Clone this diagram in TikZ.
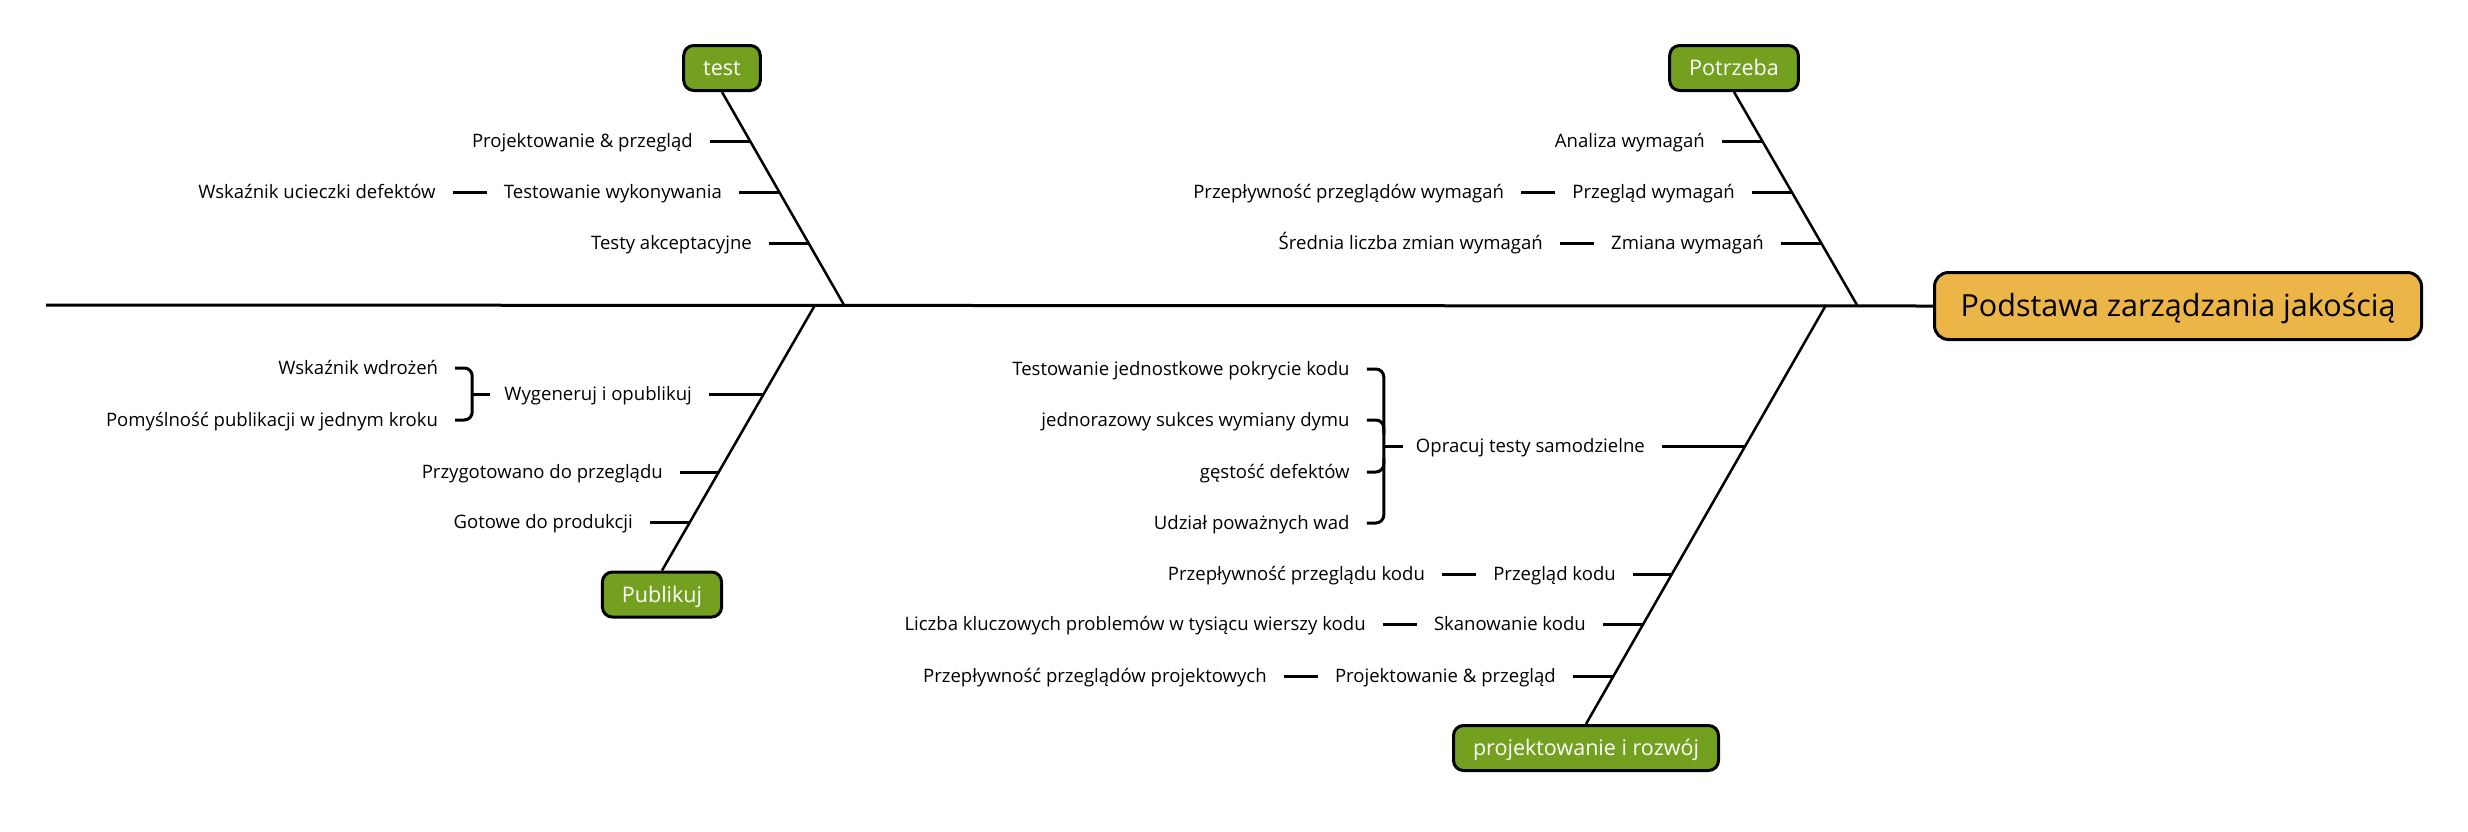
\documentclass[tikz,border=0pt]{standalone}
\usepackage{fontspec}
\setmainfont{Open Sans}
\usetikzlibrary{calc}
\definecolor{catgreen}{HTML}{73A11F}
\definecolor{rootorange}{HTML}{EBB547}
\newlength{\calwidth}
\newcommand{\lblfont}{\fontsize{\lblfs pt}{\lblfs pt}\selectfont}
\newcommand{\catfont}{\fontsize{\catfs pt}{\catfs pt}\selectfont}
\newcommand{\rootfont}{\fontsize{\rootfs pt}{\rootfs pt}\selectfont}
\begin{document}
\settowidth{\calwidth}{\fontsize{10pt}{12pt}\selectfont Liczba kluczowych problemów w tysiącu wierszy kodu}%
\pgfmathsetmacro{\lblfs}{10*461/\calwidth}%
\settowidth{\calwidth}{\fontsize{10pt}{12pt}\selectfont projektowanie i rozwój}%
\pgfmathsetmacro{\catfs}{10*226/\calwidth}%
\settowidth{\calwidth}{\fontsize{10pt}{12pt}\selectfont Podstawa zarządzania jakością}%
\pgfmathsetmacro{\rootfs}{10*435/\calwidth}%
\pgfmathsetmacro{\lblth}{0.714*\lblfs}%
\pgfmathsetmacro{\catth}{0.714*\catfs}%
\pgfmathsetmacro{\rootth}{0.714*\rootfs}%
\begin{tikzpicture}[x=1pt,y=-1pt]
\tikzset{
  lbl/.style={font=\lblfont, anchor=east, inner xsep=17pt, inner ysep=0pt,
    text height=\lblth pt, text depth=0pt},
  cat/.style={draw=black, line width=3pt, fill=catgreen, rounded corners=10pt,
    text=white, font=\catfont, inner xsep=19.5pt, inner ysep=0pt,
    minimum height=45pt, text height=\catth pt, text depth=0pt},
  rootbox/.style={draw=black, line width=3pt, fill=rootorange, rounded corners=14pt,
    font=\rootfont, minimum width=487pt, minimum height=67pt, inner ysep=0pt,
    text height=\rootth pt, text depth=0pt},
  spine/.style={line width=3pt},
  bone/.style={line width=2.5pt},
  rib/.style={line width=3pt},
  brace/.style={line width=3pt, rounded corners=8pt},
}
\useasboundingbox (0,0) rectangle (2468,831);

% main boxes
\node[rootbox] (root) at (2178,306) {Podstawa zarządzania jakością};
\node[cat] (test) at (722,68) {test};
\node[cat] (potr) at (1734,68) {Potrzeba};
\node[cat] (pub) at (662,594.5) {Publikuj};
\node[cat] (dev) at (1586,748) {projektowanie i rozwój};

% spine and bones
\coordinate (tail) at (46,305);
\coordinate (tj) at (844,305);
\coordinate (nj) at (1857,305);
\coordinate (pj) at (815,305);
\coordinate (dj) at (1826,305);
\draw[spine] (tail) -- (root.west);
\draw[bone] (test.south) -- (tj);
\draw[bone] (potr.south) -- (nj);
\draw[bone] (pj) -- (pub.north);
\draw[bone] (dj) -- (dev.north);

% points on bones
\coordinate (t1) at (750,141);
\coordinate (t2) at (779,192);
\coordinate (t3) at (808.5,243);
\coordinate (n1) at (1762,141);
\coordinate (n2) at (1792,192);
\coordinate (n3) at (1821,243);
\coordinate (p1) at (764,394);
\coordinate (p2) at (719,472);
\coordinate (p3) at (690,522);
\coordinate (d1) at (1745,446);
\coordinate (d2) at (1672,574);
\coordinate (d3) at (1644,624);
\coordinate (d4) at (1614,676);

% --- test
\node[lbl] (ta) at (710,141) {Projektowanie \& przegląd};
\node[lbl] (tb) at (739,192) {Testowanie wykonywania};
\node[lbl] (tbx) at ($(tb.west)+(-34,0)$) {Wskaźnik ucieczki defektów};
\node[lbl] (tc) at (769,243) {Testy akceptacyjne};
\draw[rib] (ta.east) -- (t1);
\draw[rib] (tb.east) -- (t2);
\draw[rib] (tbx.east) -- (tb.west);
\draw[rib] (tc.east) -- (t3);

% --- Potrzeba
\node[lbl] (na) at (1722,141) {Analiza wymagań};
\node[lbl] (nb) at (1752,192) {Przegląd wymagań};
\node[lbl] (nbx) at ($(nb.west)+(-34,0)$) {Przepływność przeglądów wymagań};
\node[lbl] (nc) at (1781,243) {Zmiana wymagań};
\node[lbl] (ncx) at ($(nc.west)+(-34,0)$) {Średnia liczba zmian wymagań};
\draw[rib] (na.east) -- (n1);
\draw[rib] (nb.east) -- (n2);
\draw[rib] (nbx.east) -- (nb.west);
\draw[rib] (nc.east) -- (n3);
\draw[rib] (ncx.east) -- (nc.west);

% --- Publikuj
\node[lbl] (pa) at (709,394) {Wygeneruj i opublikuj};
\coordinate (pab) at ($(pa.west)+(-15,0)$);
\node[lbl] (pas1) at ($(pa.west)+(-32,-26)$) {Wskaźnik wdrożeń};
\node[lbl] (pas2) at ($(pa.west)+(-32,26)$) {Pomyślność publikacji w jednym kroku};
\draw[rib] (pa.east) -- (p1);
\draw[brace] (pas1.east) -| (pab) |- (pas2.east);
\draw[rib] (pab) -- ($(pa.west)+(3,0)$);
\node[lbl] (pb) at (680,472) {Przygotowano do przeglądu};
\node[lbl] (pc) at (650,522) {Gotowe do produkcji};
\draw[rib] (pb.east) -- (p2);
\draw[rib] (pc.east) -- (p3);

% --- projektowanie i rozwoj
\node[lbl] (da) at (1662,446) {Opracuj testy samodzielne};
\coordinate (dab) at ($(da.west)+(-15,0)$);
\node[lbl] (das1) at ($(da.west)+(-32,-77)$) {Testowanie jednostkowe pokrycie kodu};
\node[lbl] (das2) at ($(da.west)+(-32,-26)$) {jednorazowy sukces wymiany dymu};
\node[lbl] (das3) at ($(da.west)+(-32,26)$) {gęstość defektów};
\node[lbl] (das4) at ($(da.west)+(-32,77)$) {Udział poważnych wad};
\draw[rib] (da.east) -- (d1);
\draw[brace] (das1.east) -| (dab) |- (das4.east);
\draw[brace] (das2.east) -| ($(das2.east -| dab)+(0,14)$);
\draw[brace] (das3.east) -| ($(das3.east -| dab)+(0,-14)$);
\draw[rib] (dab) -- ($(da.west)+(4,0)$);
\node[lbl] (db) at (1633,574) {Przegląd kodu};
\node[lbl] (dbx) at ($(db.west)+(-34,0)$) {Przepływność przeglądu kodu};
\node[lbl] (dc) at (1603,624) {Skanowanie kodu};
\node[lbl] (dcx) at ($(dc.west)+(-34,0)$) {Liczba kluczowych problemów w tysiącu wierszy kodu};
\node[lbl] (dd) at (1573,676) {Projektowanie \& przegląd};
\node[lbl] (ddx) at ($(dd.west)+(-34,0)$) {Przepływność przeglądów projektowych};
\draw[rib] (db.east) -- (d2);
\draw[rib] (dbx.east) -- (db.west);
\draw[rib] (dc.east) -- (d3);
\draw[rib] (dcx.east) -- (dc.west);
\draw[rib] (dd.east) -- (d4);
\draw[rib] (ddx.east) -- (dd.west);
\end{tikzpicture}
\end{document}
